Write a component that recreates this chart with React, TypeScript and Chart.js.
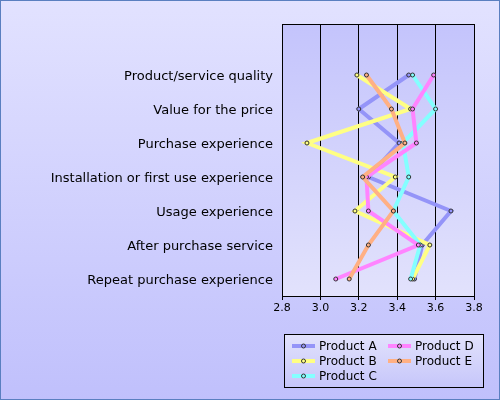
import React, { useEffect, useRef } from "react";
import { Chart, registerables } from "chart.js";

Chart.register(...registerables);

const categories = [
  "Product/service quality",
  "Value for the price",
  "Purchase experience",
  "Installation or first use experience",
  "Usage experience",
  "After purchase service",
  "Repeat purchase experience",
];

const seriesNames = ["Product A", "Product B", "Product C", "Product D", "Product E"];
const productA = [3.46, 3.2, 3.41, 3.25, 3.68, 3.53, 3.49];
const productB = [3.19, 3.47, 2.93, 3.39, 3.18, 3.57, 3.48];
const productC = [3.48, 3.6, 3.43, 3.46, 3.38, 3.52, 3.47];
const productD = [3.59, 3.48, 3.5, 3.24, 3.25, 3.51, 3.08];
const productE = [3.24, 3.37, 3.44, 3.22, 3.38, 3.25, 3.15];
const seriesColors = ["#9494f8", "#ffff84", "#84ffff", "#ff84ff", "#ffb084"];

const xMin = 2.8;
const xMax = 3.8;
const xStep = 0.2;

const FONT = "'DejaVu Sans', Verdana, sans-serif";

const bgPlugin = {
  id: "bgPlugin",
  beforeDraw(chart: any) {
    const { ctx, width, height, chartArea } = chart;
    ctx.save();
    const g = ctx.createLinearGradient(0, 0, 0, height);
    g.addColorStop(0, "#e2e2ff");
    g.addColorStop(1, "#c0c0fc");
    ctx.fillStyle = g;
    ctx.fillRect(0, 0, width, height);
    const { left, top, right, bottom } = chartArea;
    const pg = ctx.createLinearGradient(0, top, 0, bottom);
    pg.addColorStop(0, "#c4c4fc");
    pg.addColorStop(1, "#e2e2fc");
    ctx.fillStyle = pg;
    ctx.fillRect(left, top, right - left, bottom - top);
    ctx.restore();
  },
  afterDraw(chart: any) {
    const { ctx, width, height, chartArea } = chart;
    ctx.save();
    const { left, top, right, bottom } = chartArea;
    ctx.strokeStyle = "#000";
    ctx.lineWidth = 1;
    ctx.strokeRect(Math.round(left) + 0.5, Math.round(top) + 0.5, Math.round(right - left), Math.round(bottom - top));

    // legend
    const bx = 284.5, by = 334.5, bw = 199, bh = 53;
    const lg = ctx.createLinearGradient(0, by, 0, by + bh);
    lg.addColorStop(0, "#e2e2fc");
    lg.addColorStop(1, "#c6c6fa");
    ctx.fillStyle = lg;
    ctx.fillRect(bx, by, bw, bh);
    ctx.strokeStyle = "#000";
    ctx.strokeRect(bx, by, bw, bh);
    const cols = [292, 388];
    const rows = [346, 361, 376];
    ctx.font = "12px " + FONT;
    ctx.textBaseline = "middle";
    ctx.textAlign = "left";
    chart.data.datasets.forEach((ds: any, i: number) => {
      const c = Math.floor(i / 3);
      const r = i % 3;
      const x = cols[c];
      const y = rows[r];
      ctx.strokeStyle = ds.borderColor;
      ctx.lineWidth = 4;
      ctx.beginPath();
      ctx.moveTo(x, y);
      ctx.lineTo(x + 23, y);
      ctx.stroke();
      ctx.beginPath();
      ctx.arc(x + 11.5, y, 2, 0, Math.PI * 2);
      ctx.fillStyle = ds.borderColor;
      ctx.fill();
      ctx.lineWidth = 1;
      ctx.strokeStyle = "#333";
      ctx.stroke();
      ctx.fillStyle = "#000";
      ctx.fillText(ds.label, x + 27, y + 1);
    });

    // outer border
    ctx.strokeStyle = "#5a7fc0";
    ctx.lineWidth = 1;
    ctx.strokeRect(0.5, 0.5, width - 1, height - 1);
    ctx.restore();
  },
};

export default function App() {
  const ref = useRef<HTMLCanvasElement>(null);
  useEffect(() => {
    document.body.style.margin = "0";
    const values = [productA, productB, productC, productD, productE];
    const chart = new Chart(ref.current as HTMLCanvasElement, {
      type: "line",
      data: {
        labels: ["", ...categories],
        datasets: values.map((v, i) => ({
          label: seriesNames[i],
          data: [null, ...v],
          order: values.length - i,
          borderColor: seriesColors[i],
          backgroundColor: seriesColors[i],
          pointBackgroundColor: seriesColors[i],
          pointBorderColor: "#333",
          pointBorderWidth: 1,
          pointRadius: 2,
          borderWidth: 4,
          tension: 0,
          fill: false,
        })),
      },
      options: {
        indexAxis: "y",
        animation: false,
        responsive: false,
        layout: { padding: { left: 0, top: 24, right: 26, bottom: 0 } },
        plugins: { legend: { display: false }, tooltip: { enabled: false } },
        scales: {
          x: {
            type: "linear",
            min: xMin,
            max: xMax,
            ticks: { stepSize: xStep, color: "#000", font: { family: FONT, size: 11 }, padding: 2 },
            grid: { color: "#000", lineWidth: 1, tickLength: 4, tickColor: "#000" },
            border: { display: true, color: "#000" },
            afterFit(scale: any) {
              scale.height = 104;
            },
          },
          y: {
            type: "category",
            offset: true,
            ticks: { color: "#000", font: { family: FONT, size: 13 }, padding: 9, labelOffset: 1.5 },
            grid: { display: false, drawTicks: false },
            border: { display: true, color: "#000" },
            afterFit(scale: any) {
              scale.width = 282;
            },
          },
        },
      },
      plugins: [bgPlugin],
    } as any);
    return () => chart.destroy();
  }, []);
  return (
    <div style={{ width: 500, height: 400 }}>
      <canvas ref={ref} width={500} height={400} style={{ display: "block" }} />
    </div>
  );
}
